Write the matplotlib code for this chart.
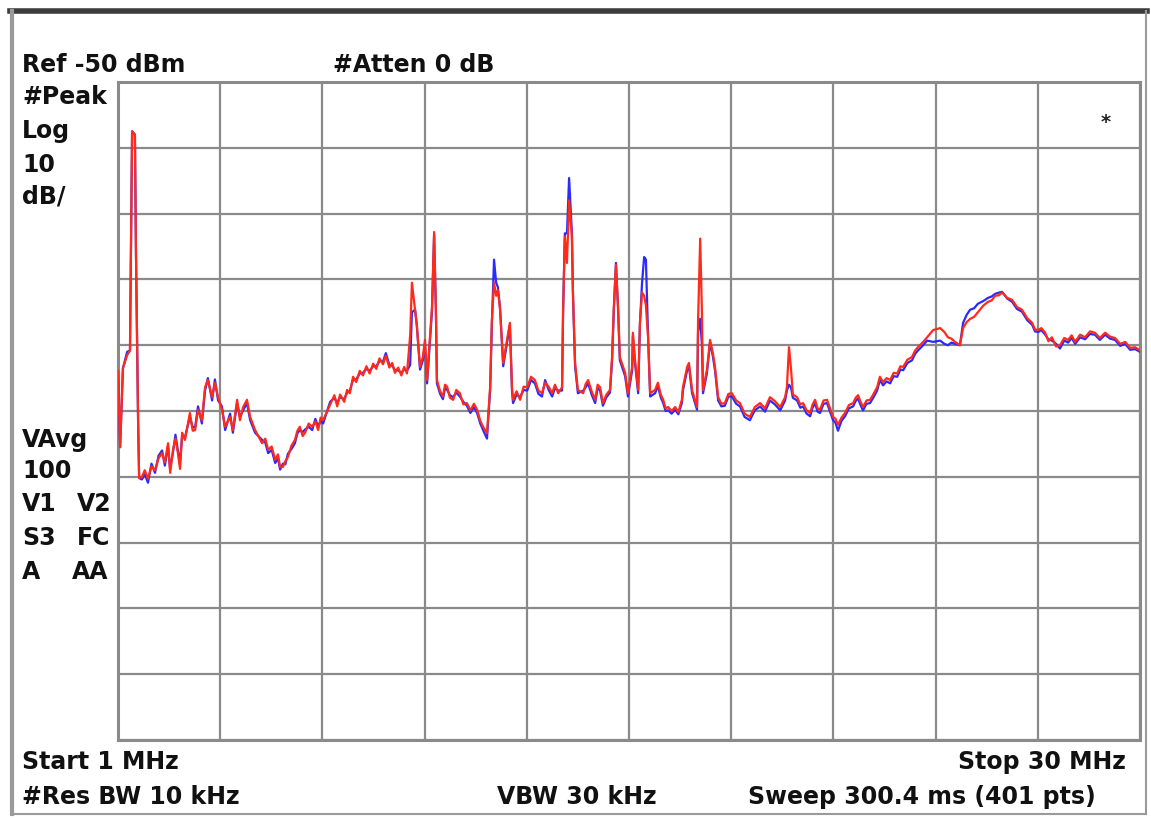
import numpy as np
import matplotlib
matplotlib.use("Agg")
import matplotlib.pyplot as plt
from matplotlib.lines import Line2D

# sweep settings
ref_level = -50      # dBm, top of screen
db_per_div = 10
f_start, f_stop = 1.0, 30.0   # MHz

# trace points (MHz / dBm), one row per stretch of the sweep
freq = [1.00, 1.06, 1.14, 1.26, 1.34, 1.37, 1.40, 1.48, 1.51, 1.57, 1.60,
        1.68, 1.76, 1.85, 1.95, 2.05, 2.15, 2.25, 2.33, 2.42, 2.48, 2.56, 2.63, 2.70, 2.76, 2.82, 2.90,
        3.04, 3.12, 3.19, 3.27, 3.38, 3.47, 3.55, 3.67, 3.75, 3.84, 3.95, 4.04, 4.18, 4.26, 4.38, 4.46, 4.55, 4.66, 4.75, 4.89,
        5.09, 5.18, 5.26, 5.36, 5.46, 5.54, 5.60, 5.68, 5.75, 5.82, 5.92, 6.02, 6.09, 6.16, 6.24, 6.31, 6.41, 6.51, 6.60, 6.68, 6.75, 6.82,
        7.02, 7.14, 7.22, 7.30, 7.42, 7.50, 7.58, 7.67, 7.76, 7.86, 7.95, 8.05, 8.14, 8.24, 8.33, 8.42, 8.52, 8.60, 8.70, 8.78, 8.86, 8.95, 9.04, 9.12, 9.20, 9.29,
        9.34, 9.43, 9.48, 9.57, 9.65, 9.71, 9.77, 9.91, 9.97, 10.02, 10.05,
        10.14, 10.22, 10.28, 10.34, 10.42, 10.51, 10.60, 10.70, 10.80, 10.90, 11.00, 11.10, 11.19, 11.28, 11.36, 11.47,
        11.56, 11.61, 11.67, 11.73, 11.78, 11.84, 11.93, 12.04, 12.12, 12.18,
        12.21, 12.31, 12.41, 12.51, 12.61, 12.72, 12.83, 12.93, 13.03, 13.12, 13.22, 13.32, 13.40, 13.49, 13.60,
        13.63, 13.68, 13.74, 13.80, 13.88, 13.91, 13.97, 14.05,
        14.20, 14.27, 14.34, 14.44, 14.54, 14.61, 14.68, 14.76, 14.86, 14.96,
        15.02, 15.07, 15.13, 15.19, 15.24, 15.39, 15.47, 15.59, 15.61, 15.67, 15.76, 15.81, 15.87, 15.93, 15.98, 16.04, 16.10,
        16.24, 16.32, 16.40, 16.47, 16.54, 16.61, 16.71, 16.81, 16.90, 17.00, 17.03, 17.15, 17.20, 17.29, 17.43,
        17.46, 17.52, 17.57, 17.60, 17.71, 17.80, 17.88, 17.94, 18.03,
        18.12, 18.22, 18.32, 18.42, 18.54, 18.65, 18.78, 18.93, 19.07, 19.22, 19.36, 19.50, 19.64, 19.79, 19.93, 19.98, 20.04, 20.10, 20.15, 20.27,
        20.36, 20.44, 20.54, 20.64, 20.71, 20.78, 20.85, 20.92, 21.02, 21.12, 21.20, 21.29, 21.36, 21.43, 21.53, 21.63, 21.74, 21.86, 21.93, 22.00, 22.07, 22.14, 22.24, 22.34, 22.44, 22.54,
        22.62, 22.71, 22.81, 22.91, 23.01, 23.11, 23.20, 23.28, 23.40, 23.53, 23.62, 23.70, 23.83, 23.96, 24.13,
        24.33, 24.45, 24.55, 24.65, 24.75, 24.89, 24.98,
        25.08, 25.18, 25.29, 25.40, 25.55, 25.69, 25.79, 25.89, 26.00, 26.09, 26.23, 26.37, 26.51, 26.65, 26.80, 26.94, 27.02, 27.11, 27.20, 27.31,
        27.40, 27.50, 27.62, 27.73, 27.85, 27.96, 28.06, 28.16, 28.30, 28.44, 28.58, 28.72, 28.86, 29.01, 29.15, 29.29, 29.44, 29.58, 29.72, 29.86, 30.00]

red = [-94.0, -105.5, -93.5, -91.5, -90.8, -73.7, -57.5, -58.0, -76.0, -101.4, -110.2,
       -110.0, -109.0, -110.3, -108.4, -109.0, -107.2, -106.4, -107.8, -104.9, -109.4, -105.9, -104.2, -106.4, -108.8, -103.3, -104.4,
       -100.3, -103.0, -102.9, -99.8, -101.4, -96.4, -95.3, -97.9, -95.7, -97.9, -99.8, -102.4, -100.9, -102.9, -98.3, -101.4, -99.4, -98.3, -100.9, -102.9,
       -104.9, -104.2, -105.9, -105.4, -107.4, -106.6, -108.5, -108.5, -107.6, -107.0, -105.3, -104.4, -103.0, -102.4, -103.8, -103.3, -101.9, -102.4, -101.6, -102.9, -101.0, -101.4,
       -99.0, -97.6, -99.3, -97.5, -98.6, -96.8, -97.3, -94.8, -95.6, -93.9, -94.6, -93.2, -94.3, -92.8, -93.6, -92.0, -92.9, -91.6, -93.4, -92.7, -94.2, -93.4, -94.6, -93.3, -94.3, -88.5,
       -80.5, -84.6, -87.0, -93.3, -91.8, -89.2, -95.3, -84.2, -72.8, -84.2, -95.3,
       -97.0, -97.8, -96.0, -96.3, -98.0, -98.3, -96.8, -97.3, -99.0, -98.8, -99.9, -98.9, -99.8, -101.5, -102.4, -103.4,
       -96.3, -86.2, -80.5, -82.5, -81.6, -84.6, -92.7, -89.2, -86.6, -96.5,
       -98.3, -97.0, -98.3, -96.3, -96.4, -94.8, -95.3, -96.9, -97.3, -95.7, -96.3, -97.3, -96.0, -97.3, -96.4,
       -84.6, -73.5, -77.5, -68.0, -73.5, -82.0, -92.7, -96.8,
       -97.3, -95.9, -95.3, -97.0, -98.3, -96.0, -96.4, -98.8, -97.5, -96.8,
       -91.8, -84.2, -77.8, -84.2, -91.8, -94.2, -97.3, -93.3, -88.1, -92.2, -96.8, -86.6, -82.0, -82.5, -84.0, -88.7, -97.3,
       -96.8, -95.7, -97.5, -98.3, -99.6, -99.4, -100.0, -99.4, -100.2, -98.3, -96.4, -93.3, -92.7, -96.8, -99.4,
       -86.2, -73.8, -85.2, -96.8, -93.8, -89.2, -91.2, -93.3, -97.9,
       -98.9, -98.8, -97.4, -97.3, -98.4, -98.8, -100.4, -100.9, -99.4, -98.8, -99.6, -97.9, -98.5, -99.4, -97.9, -96.4, -90.3, -93.8, -97.5, -97.9,
       -99.0, -98.8, -99.9, -100.3, -99.0, -98.3, -99.6, -99.8, -98.4, -98.3, -99.5, -100.9, -101.2, -102.1, -101.0, -100.3, -99.1, -98.8, -98.0, -97.6, -98.6, -99.4, -98.4, -98.3, -97.4, -96.4,
       -94.8, -95.6, -95.0, -95.3, -94.2, -94.3, -93.2, -93.3, -92.2, -91.8, -90.8, -90.3, -89.6, -88.8, -87.7,
       -87.4, -88.0, -88.8, -89.0, -89.5, -90.0, -87.4,
       -86.5, -86.0, -85.7, -85.0, -84.0, -83.4, -83.2, -82.5, -82.4, -82.0, -82.8, -83.1, -84.2, -84.6, -85.9, -86.6, -87.6, -87.7, -87.4, -88.1,
       -89.4, -88.8, -90.2, -90.0, -88.9, -89.2, -88.5, -89.5, -88.4, -88.8, -87.9, -88.1, -88.9, -88.1, -88.7, -88.9, -89.8, -89.5, -90.4, -90.3, -90.8]

blue = [-94.0, -105.5, -93.5, -91.0, -90.8, -73.7, -57.5, -58.0, -76.0, -101.4, -110.2,
        -110.4, -109.6, -110.9, -108.0, -109.4, -106.8, -106.0, -108.3, -105.3, -108.8, -106.3, -103.6, -106.0, -107.9, -103.8, -104.0,
        -100.9, -102.5, -102.4, -99.3, -101.9, -96.9, -95.0, -98.4, -95.2, -98.4, -99.3, -102.9, -100.4, -103.3, -98.8, -100.9, -99.9, -98.8, -101.4, -103.3,
        -104.4, -104.8, -106.4, -105.9, -107.9, -107.2, -108.9, -108.0, -108.1, -106.5, -105.8, -104.9, -103.4, -102.9, -103.2, -102.8, -102.4, -102.9, -101.2, -102.4, -101.5, -101.9,
        -98.6, -98.0, -98.8, -97.9, -98.2, -97.2, -96.9, -95.2, -95.2, -94.3, -94.2, -93.6, -93.9, -93.2, -93.2, -92.4, -92.5, -91.2, -93.0, -93.1, -93.8, -93.8, -94.2, -93.7, -93.9, -93.0,
        -85.0, -84.6, -87.0, -93.7, -92.3, -89.8, -95.8, -84.8, -73.2, -84.8, -95.8,
        -97.4, -98.2, -96.5, -96.8, -97.6, -97.9, -97.2, -97.8, -98.6, -99.2, -100.3, -99.4, -100.3, -101.9, -102.9, -104.2,
        -96.8, -86.6, -77.0, -80.5, -81.2, -84.2, -93.2, -89.6, -87.0, -96.9,
        -98.8, -97.5, -97.9, -96.8, -96.9, -95.3, -95.8, -97.4, -97.8, -95.3, -96.8, -97.8, -96.5, -96.9, -96.9,
        -84.9, -73.0, -73.0, -64.6, -73.0, -82.4, -93.2, -97.3,
        -96.9, -96.4, -95.8, -97.5, -98.8, -96.5, -96.9, -99.2, -97.9, -97.2,
        -92.3, -84.6, -77.5, -84.6, -92.3, -94.7, -97.8, -93.8, -88.6, -92.7, -97.3, -86.9, -80.5, -76.6, -77.0, -88.3, -97.8,
        -97.3, -96.2, -97.9, -98.8, -100.0, -99.9, -100.4, -99.8, -100.5, -98.8, -96.9, -93.8, -93.1, -97.3, -99.8,
        -88.0, -86.0, -90.0, -97.3, -94.3, -89.6, -91.7, -93.8, -98.4,
        -99.3, -99.2, -97.8, -97.8, -98.9, -99.3, -100.9, -101.4, -99.9, -99.3, -100.1, -98.4, -99.0, -99.9, -98.4, -96.9, -96.0, -96.5, -98.0, -98.4,
        -99.5, -99.3, -100.4, -100.8, -99.5, -98.8, -100.1, -100.3, -98.9, -98.8, -100.0, -101.4, -101.8, -103.0, -101.5, -100.8, -99.6, -99.3, -98.5, -98.1, -99.1, -99.9, -98.9, -98.8, -97.9, -96.9,
        -95.3, -96.1, -95.5, -95.8, -94.7, -94.8, -93.7, -93.8, -92.7, -92.3, -91.3, -90.8, -90.1, -89.3, -89.5,
        -89.3, -89.8, -90.0, -89.6, -89.8, -90.0, -86.6,
        -85.4, -84.6, -84.4, -83.7, -83.3, -82.8, -82.6, -82.2, -82.0, -81.9, -82.9, -83.4, -84.5, -84.9, -86.2, -86.9, -87.9, -88.0, -87.7, -88.4,
        -89.1, -89.3, -89.8, -90.5, -89.3, -89.6, -88.9, -89.8, -88.8, -89.1, -88.3, -88.4, -89.2, -88.4, -89.0, -89.2, -90.1, -89.8, -90.7, -90.6, -91.0]

assert len(freq) == len(red) == len(blue)

W, H = 1151, 819
fig = plt.figure(figsize=(W / 100, H / 100), dpi=100)
fig.patch.set_facecolor("white")

# plot area in pixels: x 118..1140, y 82..740
ax = fig.add_axes([118 / W, 1 - 740 / H, 1022 / W, 658 / H])
ax.set_xlim(f_start, f_stop)
ax.set_ylim(ref_level - 10 * db_per_div, ref_level)
ax.set_xticks(np.linspace(f_start, f_stop, 11))
ax.set_yticks(np.arange(ref_level - 10 * db_per_div, ref_level + 1, db_per_div))
ax.grid(True, color="#8a8a8a", linewidth=1.6)
ax.tick_params(length=0, labelbottom=False, labelleft=False)
for sp in ax.spines.values():
    sp.set_color("#8a8a8a")
    sp.set_linewidth(2.2)
ax.set_axisbelow(True)

ax.plot(freq, blue, color="#2a2aff", linewidth=1.6, zorder=3)
ax.plot(freq, red, color="#ff2a1a", linewidth=1.6, zorder=4)
ax.text(0.966, 0.939, "*", transform=ax.transAxes, ha="center", va="center",
        fontsize=14, fontweight="bold", color="#222222")

# window frame
fig.add_artist(Line2D([10 / W, 1147 / W], [1 - 11 / H, 1 - 11 / H], color="#3c3c3c", linewidth=4))
fig.add_artist(Line2D([12 / W, 12 / W], [1 - 11 / H, 1 - 814 / H], color="#9a9a9a", linewidth=3))
fig.add_artist(Line2D([1146 / W, 1146 / W], [1 - 11 / H, 1 - 814 / H], color="#9a9a9a", linewidth=1.5))
fig.add_artist(Line2D([12 / W, 1146 / W], [1 - 814 / H, 1 - 814 / H], color="#9a9a9a", linewidth=1.5))

txt = dict(fontsize=17, fontweight="bold", color="#111111", va="center", family="DejaVu Sans")

def label(x, y, s, ha="left"):
    fig.text(x / W, 1 - y / H, s, ha=ha, **txt)

label(22, 65, "Ref -50 dBm")
label(333, 65, "#Atten 0 dB")
label(22, 97, "#Peak")
label(22, 131, "Log")
label(22, 165, "10")
label(22, 197, "dB/")
label(22, 440, "VAvg")
label(22, 471, "100")
label(22, 504, "V1")
label(77, 504, "V2")
label(22, 538, "S3")
label(77, 538, "FC")
label(22, 572, "A")
label(72, 572, "AA")
label(22, 762, "Start 1 MHz")
label(1126, 762, "Stop 30 MHz", ha="right")
label(22, 797, "#Res BW 10 kHz")
label(497, 797, "VBW 30 kHz")
label(748, 797, "Sweep 300.4 ms (401 pts)")

fig.savefig("out.png", dpi=100, facecolor="white")
